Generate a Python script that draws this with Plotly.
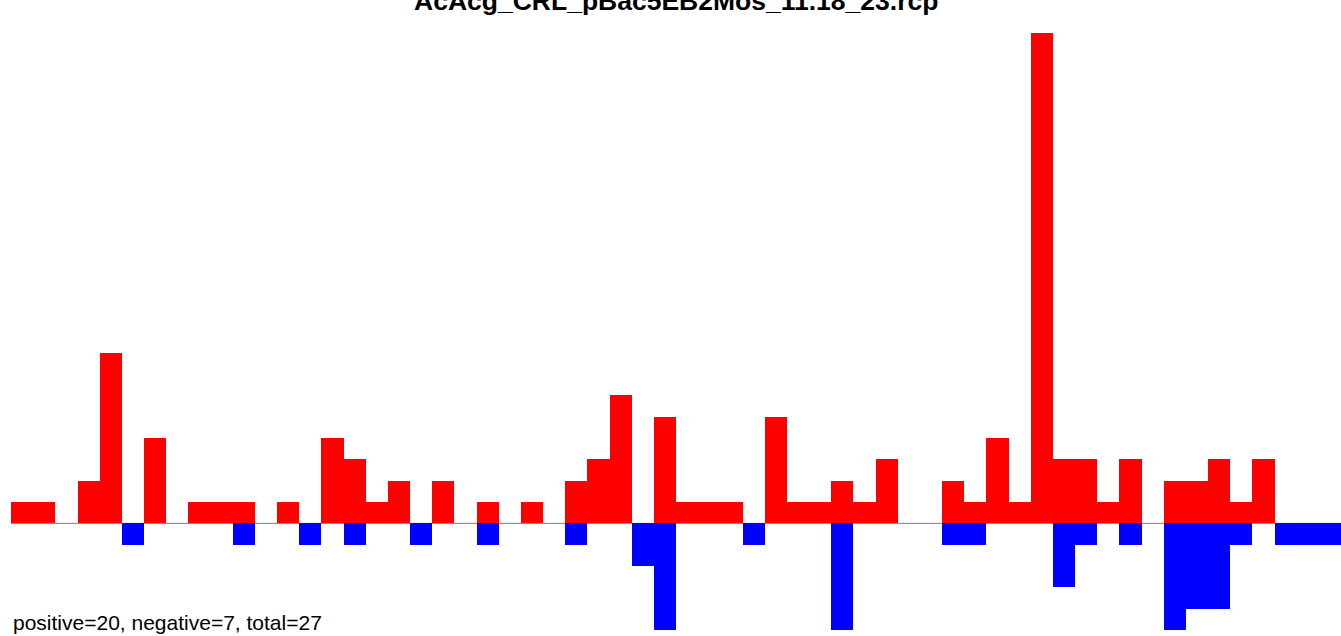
import plotly.graph_objects as go

title_text = "AcAcg_CRL_pBac5EB2Mos_11.18_23.rcp"
summary_text = "positive=20, negative=7, total=27"

bins = list(range(60))
pos_counts = [1, 1, 0, 2, 8, 0, 4, 0, 1, 1,
              1, 0, 1, 0, 4, 3, 1, 2, 0, 2,
              0, 1, 0, 1, 0, 2, 3, 6, 0, 5,
              1, 1, 1, 0, 5, 1, 1, 2, 1, 3,
              0, 0, 2, 1, 4, 1, 23, 3, 3, 1,
              3, 0, 2, 2, 3, 1, 3, 0, 0, 0]
neg_counts = [0, 0, 0, 0, 0, -1, 0, 0, 0, 0,
              -1, 0, 0, -1, 0, -1, 0, 0, -1, 0,
              0, -1, 0, 0, 0, -1, 0, 0, -2, -5,
              0, 0, 0, -1, 0, 0, 0, -5, 0, 0,
              0, 0, -1, -1, 0, 0, 0, -3, -1, 0,
              -1, 0, -5, -4, -4, -1, 0, -1, -1, -1]

fig = go.Figure()
fig.add_trace(go.Bar(x=bins, y=pos_counts, width=1, marker=dict(color="#FF0000", line=dict(width=0)),
                     showlegend=False, hoverinfo="x+y"))
fig.add_trace(go.Bar(x=bins, y=neg_counts, width=1, marker=dict(color="#0000FF", line=dict(width=0)),
                     showlegend=False, hoverinfo="x+y"))

fig.add_shape(type="line", xref="paper", x0=0, x1=1, yref="y", y0=0, y1=0,
              line=dict(color="#808080", width=1), layer="below")

fig.add_annotation(text=title_text, xref="paper", yref="paper", x=0.5, y=1,
                   xanchor="center", yanchor="middle", yshift=32, showarrow=False,
                   font=dict(family="Liberation Sans, Arial", size=26.5, color="black", weight="bold"))
fig.add_annotation(text=summary_text, xref="paper", yref="paper", x=0, y=0,
                   xanchor="left", yanchor="middle", yshift=8, showarrow=False,
                   font=dict(family="Liberation Sans, Arial", size=21, color="black"))

fig.update_layout(
    width=1341, height=636,
    margin=dict(l=11, r=0, t=33, b=6, pad=0),
    paper_bgcolor="white", plot_bgcolor="white",
    barmode="overlay", bargap=0,
    xaxis=dict(range=[-0.5, 59.5], visible=False, showgrid=False, zeroline=False, fixedrange=True),
    yaxis=dict(range=[-5, 23], visible=False, showgrid=False, zeroline=False, fixedrange=True),
)

fig.write_html("out.html", config={"displayModeBar": False},
               post_script="document.body.style.margin='0';document.body.style.overflow='hidden';")
